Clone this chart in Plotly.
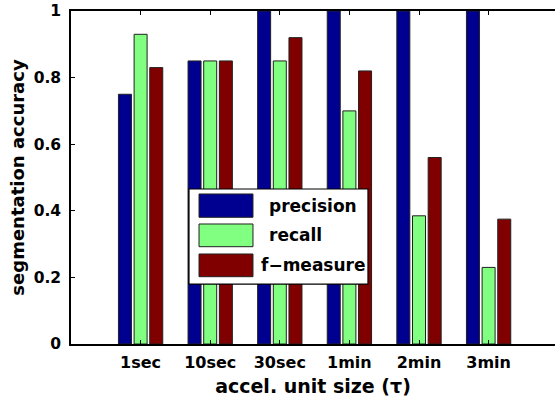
import plotly.graph_objects as go

# Segmentation accuracy per accelerometer unit size
unit_sizes = ["1sec", "10sec", "30sec", "1min", "2min", "3min"]
precision = [0.75, 0.85, 1.0, 1.0, 1.0, 1.0]
recall = [0.93, 0.85, 0.85, 0.70, 0.385, 0.23]
f_measure = [0.83, 0.85, 0.92, 0.82, 0.56, 0.375]

series_names = ["precision", "recall", "f\u2212measure"]
series_colors = ["#000090", "#80FF80", "#800000"]
series_values = [precision, recall, f_measure]

FONT = "DejaVu Sans"

fig = go.Figure()
for name, vals, col in zip(series_names, series_values, series_colors):
    fig.add_trace(go.Bar(
        x=unit_sizes, y=vals, name=name,
        marker=dict(color=col, line=dict(color="#202020", width=1)),
        showlegend=False,
    ))

# Legend drawn as a boxed key inside the axes
box = dict(x0=0.2438, x1=0.6136, y0=0.180, y1=0.4655)
fig.add_shape(type="rect", xref="paper", yref="paper", layer="above",
              fillcolor="white", line=dict(color="black", width=1.2), **box)
rows = [(0.3805, 0.4505), (0.2922, 0.3604), (0.2021, 0.2703)]
text_x = [0.405, 0.405, 0.388]
for (y0, y1), name, col, tx in zip(rows, series_names, series_colors, text_x):
    fig.add_shape(type="rect", xref="paper", yref="paper", layer="above",
                  x0=0.2645, x1=0.3760, y0=y0, y1=y1,
                  fillcolor=col, line=dict(color="#202020", width=1))
    fig.add_annotation(x=tx, y=(y0 + y1) / 2, xref="paper", yref="paper",
                       text=name, showarrow=False, xanchor="left", yanchor="middle",
                       font=dict(family=FONT, size=17, color="black", weight="bold"))

fig.update_layout(
    width=555, height=398,
    margin=dict(l=71, r=0, t=11, b=54),
    paper_bgcolor="white", plot_bgcolor="white",
    barmode="group", bargap=0.325, bargroupgap=0.17,
    font=dict(family=FONT, color="black"),
    xaxis=dict(
        range=[-1, 5.954], showgrid=False, zeroline=False,
        showline=True, linecolor="black", linewidth=1.5, mirror="ticks",
        ticks="inside", ticklen=4, tickcolor="black",
        tickfont=dict(family=FONT, size=16, weight="bold"),
        ticklabelstandoff=3,
        title=dict(text="accel. unit size (\u03c4)", standoff=9,
                   font=dict(family=FONT, size=19, weight="bold")),
    ),
    yaxis=dict(
        range=[0, 1], dtick=0.2, showgrid=False, zeroline=False,
        showline=True, linecolor="black", linewidth=1.5,
        ticks="inside", ticklen=4, tickcolor="black",
        tickfont=dict(family=FONT, size=15.5, weight="bold"),
        ticklabelstandoff=5,
        title=dict(text="segmentation accuracy", standoff=4,
                   font=dict(family=FONT, size=18, weight="bold")),
    ),
    yaxis2=dict(
        range=[0, 1], dtick=0.2, overlaying="y", side="right",
        showgrid=False, zeroline=False, showline=False,
        ticks="inside", ticklen=3, tickcolor="black", showticklabels=False,
    ),
)

fig.write_html("out.html")
